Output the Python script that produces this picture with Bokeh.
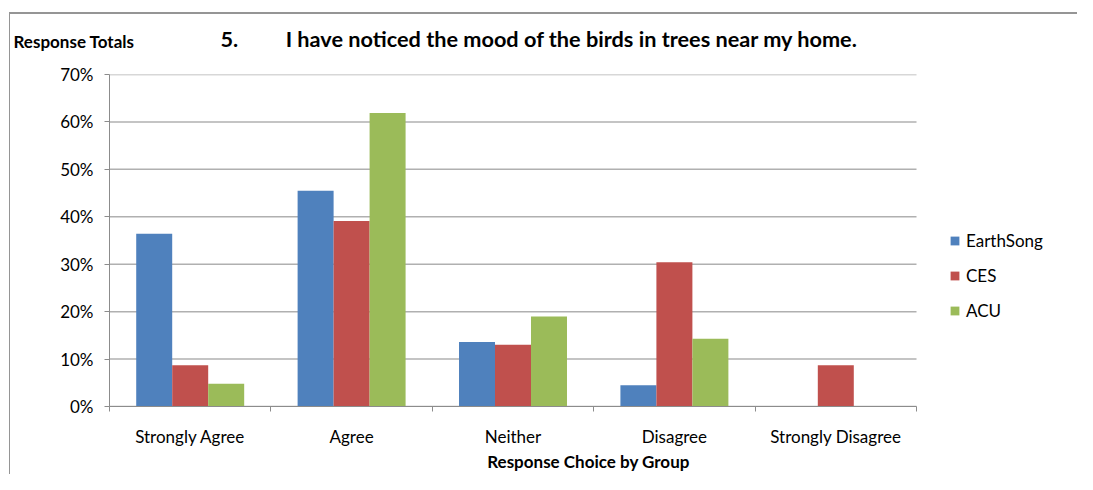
from bokeh.plotting import figure
from bokeh.models import (Range1d, FixedTicker, NumeralTickFormatter, Legend, LegendItem,
                          Label, ColumnDataSource, InlineStyleSheet)
from bokeh.transform import dodge
from bokeh.embed import file_html
from bokeh.resources import INLINE

categories = ["Strongly Agree", "Agree", "Neither", "Disagree", "Strongly Disagree"]
series = ["EarthSong", "CES", "ACU"]
earthsong = [0.364, 0.455, 0.136, 0.045, 0.0]
ces = [0.087, 0.391, 0.130, 0.304, 0.087]
acu = [0.048, 0.619, 0.190, 0.143, 0.0]
colors = ["#4F81BD", "#C0504D", "#9BBB59"]
y_ticks = [0.0, 0.1, 0.2, 0.3, 0.4, 0.5, 0.6, 0.7]

title_text = "5.\u00a0\u00a0\u00a0\u00a0\u00a0\u00a0\u00a0\u00a0 I have noticed the mood of the birds in trees near my home."
y_title = "Response Totals"
x_title = "Response Choice by Group"

FONT = "Lato"
n = len(categories)
centers = [i + 0.5 for i in range(n)]
edges = [float(i) for i in range(n + 1)]

# layout (pixels): plot area of the bars spans 807px; the frame is extended to hold the legend
W, H = 1077, 474
LEFT, TOP, BOTTOM = 109, 74, 68
BARS_W = 807
FRAME_W = W - LEFT - 10
x_max = n * FRAME_W / BARS_W

src = ColumnDataSource(dict(x=centers, EarthSong=earthsong, CES=ces, ACU=acu))
grid_src = ColumnDataSource(dict(y=y_ticks, x0=[0] * len(y_ticks), x1=[n] * len(y_ticks)))

css = """
:host::after { content: ''; position: absolute; left: 9px; top: 12px; right: 0; bottom: 0;
  border-top: 2px solid #959595; border-left: 1px solid #959595; pointer-events: none; }
"""

p = figure(width=W, height=H, x_range=Range1d(0, x_max), y_range=Range1d(0, 0.7),
           output_backend="svg", toolbar_location=None,
           min_border_left=LEFT, min_border_right=10, min_border_top=TOP, min_border_bottom=BOTTOM,
           stylesheets=[InlineStyleSheet(css=css)])
p.outline_line_color = None
p.background_fill_color = "white"
p.border_fill_color = "white"
p.xgrid.grid_line_color = None
p.ygrid.grid_line_color = None

# horizontal gridlines limited to the category area
p.segment(x0="x0", x1="x1", y0="y", y1="y", source=grid_src,
          line_color="#b0b0b0", line_width=1.5)

bw = 0.223
renderers = []
for k, (s, c) in enumerate(zip(series, colors)):
    r = p.vbar(x=dodge("x", (k - 1) * bw, range=p.x_range), top=s, width=bw, source=src,
               fill_color=c, line_color=None)
    renderers.append(r)

# axes
p.xaxis.bounds = (0, n)
p.xaxis.ticker = FixedTicker(ticks=centers, minor_ticks=edges)
p.xaxis.major_label_overrides = {c: lab for c, lab in zip(centers, categories)}
p.xaxis.major_tick_out = 0
p.xaxis.major_tick_in = 0
p.xaxis.minor_tick_out = 5
p.xaxis.minor_tick_in = 0
p.xaxis.minor_tick_line_color = "#8c8c8c"
p.xaxis.axis_line_color = "#8c8c8c"
p.xaxis.major_label_standoff = 14
p.xaxis.major_label_text_font = FONT
p.xaxis.major_label_text_font_size = "17px"
p.xaxis.major_label_text_color = "#000000"
p.xaxis.axis_label = x_title
p.xaxis.axis_label_text_font = FONT
p.xaxis.axis_label_text_font_style = "bold"
p.xaxis.axis_label_text_font_size = "17px"
p.xaxis.axis_label_text_color = "#000000"
p.xaxis.axis_label_standoff = 1

p.yaxis.ticker = FixedTicker(ticks=y_ticks)
p.yaxis.formatter = NumeralTickFormatter(format="0%")
p.yaxis.major_tick_out = 5
p.yaxis.major_tick_in = 0
p.yaxis.minor_tick_line_color = None
p.yaxis.major_tick_line_color = "#8c8c8c"
p.yaxis.axis_line_color = "#8c8c8c"
p.yaxis.major_label_standoff = 11
p.yaxis.major_label_text_font = FONT
p.yaxis.major_label_text_font_size = "17px"
p.yaxis.major_label_text_color = "#000000"

legend = Legend(items=[LegendItem(label=s, renderers=[r]) for s, r in zip(series, renderers)],
                location=(840, 85), orientation="vertical", padding=0, margin=0,
                spacing=14, glyph_width=11, glyph_height=11, label_height=20,
                label_standoff=6, border_line_color=None, background_fill_alpha=0,
                label_text_font=FONT, label_text_font_size="17px", label_text_color="#000000")
p.add_layout(legend, "center")

# main title
p.title.text = title_text
p.title.align = "left"
p.title.offset = 111
p.title.standoff = 4
p.title.text_font = FONT
p.title.text_font_style = "bold"
p.title.text_font_size = "21.7px"
p.title.text_color = "#000000"

# y-axis heading above the axis
p.add_layout(Label(x=-96, y=23, x_units="screen", y_units="screen", text=y_title,
                   text_font=FONT, text_font_style="bold", text_font_size="17px",
                   text_color="#000000"), "above")

open("out.html", "w").write(file_html(p, INLINE))
